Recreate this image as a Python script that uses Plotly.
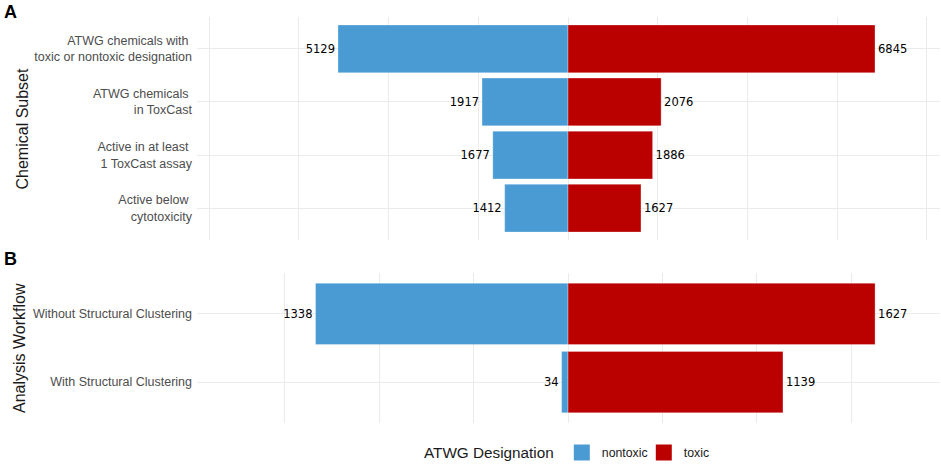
import plotly.graph_objects as go

# panel A: chemical subsets
subsets = ["ATWG chemicals with\u00a0<br>toxic or nontoxic designation",
           "ATWG chemicals\u00a0<br>in ToxCast",
           "Active in at least\u00a0<br>1 ToxCast assay",
           "Active below\u00a0<br>cytotoxicity"]
subset_nontoxic = [5129, 1917, 1677, 1412]
subset_toxic = [6845, 2076, 1886, 1627]

# panel B: analysis workflow
workflows = ["Without Structural Clustering", "With Structural Clustering"]
workflow_nontoxic = [1338, 34]
workflow_toxic = [1627, 1139]

BLUE = "#4A9BD4"
RED = "#BB0000"
GRID = "#EBEBEB"

# pixel layout of the plotting region
W, H = 941, 465
L, R, T, B = 197, 1, 17, 42
ph = H - T - B
pw = W - L - R


def py(p):
    return (H - B - p) / ph


def px(p):
    return (p - L) / pw


label_font = dict(family="DejaVu Sans", size=11.5, color="black")
bar_line = dict(color="rgba(255,255,255,0.6)", width=0.5)

fig = go.Figure()

fig.add_trace(go.Bar(y=subsets, x=[-v for v in subset_nontoxic], orientation="h",
                     marker=dict(color=BLUE, line=bar_line),
                     text=[str(v) for v in subset_nontoxic], textposition="outside",
                     textfont=label_font, width=0.9, showlegend=False,
                     xaxis="x", yaxis="y"))
fig.add_trace(go.Bar(y=subsets, x=subset_toxic, orientation="h",
                     marker=dict(color=RED, line=bar_line),
                     text=[str(v) for v in subset_toxic], textposition="outside",
                     textfont=label_font, width=0.9, showlegend=False,
                     xaxis="x", yaxis="y"))

fig.add_trace(go.Bar(y=workflows, x=[-v for v in workflow_nontoxic], orientation="h",
                     marker=dict(color=BLUE, line=bar_line),
                     text=[str(v) for v in workflow_nontoxic], textposition="outside",
                     textfont=label_font, width=0.9, showlegend=False,
                     xaxis="x2", yaxis="y2"))
fig.add_trace(go.Bar(y=workflows, x=workflow_toxic, orientation="h",
                     marker=dict(color=RED, line=bar_line),
                     text=[str(v) for v in workflow_toxic], textposition="outside",
                     textfont=label_font, width=0.9, showlegend=False,
                     xaxis="x2", yaxis="y2"))

# legend keys
for name, col in [("nontoxic", BLUE), ("toxic", RED)]:
    fig.add_trace(go.Scatter(x=[None], y=[None], mode="markers", name=name,
                             marker=dict(symbol="square", size=16, color=col),
                             xaxis="x2", yaxis="y2"))

tick_font = dict(family="Liberation Sans", size=12.5, color="#4D4D4D")
xcommon = dict(showticklabels=False, showgrid=True, gridcolor=GRID, gridwidth=1,
               zeroline=False, ticks="", automargin=False, domain=[0, 1])
ycommon = dict(type="category", showgrid=True, gridcolor=GRID, gridwidth=1,
               zeroline=False, ticks="", automargin=False, tickfont=tick_font,
               ticklabelstandoff=4)

fig.update_layout(
    width=W, height=H,
    template="none",
    paper_bgcolor="white", plot_bgcolor="white",
    margin=dict(l=L, r=R, t=T, b=B, autoexpand=False),
    barmode="overlay",
    font=dict(family="Liberation Sans", color="#1A1A1A"),
    xaxis=dict(xcommon, range=[-8272, 8294], dtick=2000, tick0=0, anchor="y"),
    yaxis=dict(ycommon, range=[3.6, -0.6], domain=[py(240), 1], anchor="x"),
    xaxis2=dict(xcommon, range=[-1966, 1971], dtick=500, tick0=0, anchor="y2"),
    yaxis2=dict(ycommon, range=[1.6, -0.6], domain=[0, py(273)], anchor="x2"),
    legend=dict(orientation="h", x=px(422), xanchor="left", y=py(453), yanchor="middle",
                title=dict(text="ATWG Designation", side="left",
                           font=dict(size=15.3, color="#1A1A1A")),
                font=dict(size=12.3, color="#1A1A1A"), bgcolor="rgba(0,0,0,0)",
                entrywidth=37, entrywidthmode="pixels"),
    annotations=[
        dict(text="Chemical Subset", textangle=-90, x=px(22), y=py(128.5),
             xanchor="center", yanchor="middle",
             xref="paper", yref="paper", showarrow=False,
             font=dict(size=16, color="#1A1A1A")),
        dict(text="Analysis Workflow", textangle=-90, x=px(19), y=py(348),
             xanchor="center", yanchor="middle",
             xref="paper", yref="paper", showarrow=False,
             font=dict(size=16, color="#1A1A1A")),
        dict(text="<b>A</b>", x=px(2), y=py(12), xanchor="left", yanchor="middle",
             xref="paper", yref="paper",
             showarrow=False, font=dict(size=18, color="black")),
        dict(text="<b>B</b>", x=px(2), y=py(259), xanchor="left", yanchor="middle",
             xref="paper", yref="paper",
             showarrow=False, font=dict(size=18, color="black")),
    ],
)

fig.write_html("out.html", config={"displayModeBar": False},
               post_script="document.body.style.margin='0';")
